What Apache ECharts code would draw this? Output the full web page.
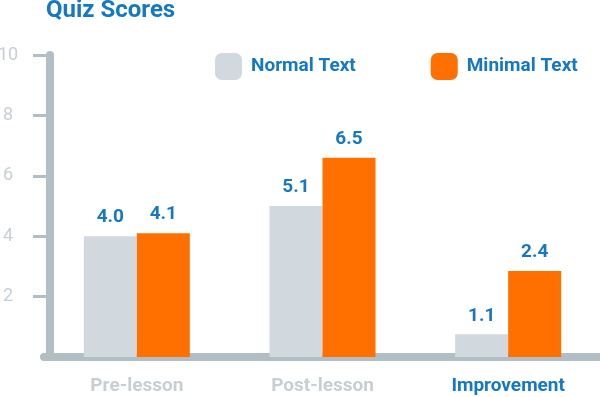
<!DOCTYPE html>
<html>
<head>
<meta charset="utf-8">
<script src="https://cdn.jsdelivr.net/npm/echarts@6/dist/echarts.min.js"></script>
<style>
  html, body { margin: 0; padding: 0; background: #fff; }
  #chart { width: 600px; height: 397px; }
</style>
</head>
<body>
<div id="chart"></div>
<script>
var categories = ['Pre-lesson', 'Post-lesson', 'Improvement'];
// bar heights as drawn in the picture
var normalValues = [4.0, 5.0, 0.75];
var minimalValues = [4.1, 6.6, 2.85];
// numbers printed above the bars
var normalLabels = ['4.0', '5.1', '1.1'];
var minimalLabels = ['4.1', '6.5', '2.4'];
var yTicks = [2, 4, 6, 8, 10];

var blue = '#1479c2';
var axisGrey = '#b1bec5';
var labelGrey = '#c7cfd5';

var chartDom = document.getElementById('chart');
var myChart = echarts.init(chartDom);
var option;

function valueLabel(labels) {
    return {
        show: true,
        position: 'top',
        distance: 9,
        color: blue,
        fontFamily: 'Roboto',
        fontWeight: 'bold',
        fontSize: 19,
        formatter: function (p) { return labels[p.dataIndex]; }
    };
}

option = {
    animation: false,
    title: {
        text: 'Quiz Scores',
        left: 46,
        top: -1,
        padding: 0,
        textStyle: {
            color: blue,
            fontFamily: 'Roboto',
            fontWeight: 'bold',
            fontSize: 24
        }
    },
    legend: {
        left: 215,
        top: 53,
        padding: 0,
        itemWidth: 27,
        itemHeight: 27,
        itemGap: 75,
        icon: 'roundRect',
        textStyle: {
            color: blue,
            fontFamily: 'Roboto',
            fontWeight: 'bold',
            fontSize: 19,
            padding: [0, 0, 0, 4]
        }
    },
    grid: {
        left: 44,
        right: -1,
        top: 55,
        bottom: 40,
        outerBoundsMode: 'none'
    },
    xAxis: {
        type: 'category',
        data: categories,
        offset: 4,
        axisLine: {
            lineStyle: { color: axisGrey, width: 8 }
        },
        axisTick: { show: false },
        axisLabel: {
            margin: 16,
            fontFamily: 'Roboto',
            fontWeight: 'bold',
            fontSize: 19,
            color: function (value, index) {
                return index === 2 ? blue : labelGrey;
            }
        }
    },
    yAxis: {
        type: 'value',
        min: 0,
        max: 10,
        interval: 2,
        offset: -6,
        splitLine: { show: false },
        axisLine: {
            show: true,
            lineStyle: { color: axisGrey, width: 8, cap: 'round' }
        },
        axisTick: {
            show: true,
            length: 17,
            customValues: yTicks,
            lineStyle: { color: axisGrey, width: 3 }
        },
        axisLabel: {
            customValues: yTicks,
            align: 'center',
            margin: 42,
            fontFamily: 'Roboto',
            fontSize: 18,
            color: labelGrey
        }
    },
    series: [
        {
            name: 'Normal Text',
            type: 'bar',
            data: normalValues,
            barWidth: 53,
            barGap: '0%',
            itemStyle: { color: '#d1d9de' },
            label: valueLabel(normalLabels)
        },
        {
            name: 'Minimal Text',
            type: 'bar',
            data: minimalValues,
            barWidth: 53,
            itemStyle: { color: '#ff7000' },
            label: valueLabel(minimalLabels)
        }
    ]
};

option && myChart.setOption(option);
</script>
</body>
</html>
